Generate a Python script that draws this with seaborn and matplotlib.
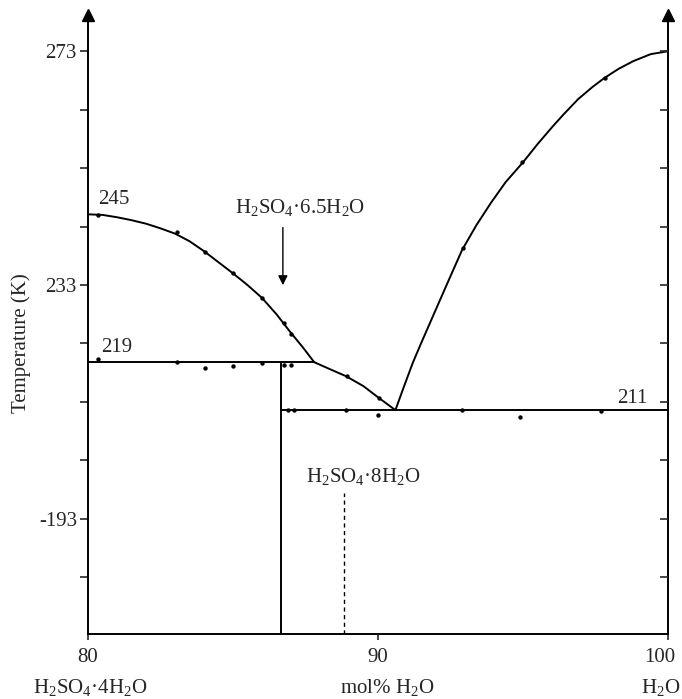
import matplotlib
matplotlib.use("Agg")
import matplotlib.pyplot as plt
import matplotlib.transforms as mtransforms
import seaborn as sns

sns.set_style("white")
plt.rcParams['font.family'] = ['Liberation Serif', 'DejaVu Serif']
plt.rcParams['mathtext.fontset'] = 'custom'
plt.rcParams['mathtext.rm'] = 'Liberation Serif'
plt.rcParams['mathtext.it'] = 'Liberation Serif'

# ---- data ----
# liquidus of H2SO4·4H2O (curve vertices)
liq4_x = [80.0, 80.5, 81.0, 81.5, 82.0, 82.5, 83.0, 83.5, 84.0, 84.5, 85.0,
          85.5, 86.0, 86.5, 87.0, 87.4, 87.8]
liq4_T = [245.1, 245.0, 244.6, 244.1, 243.5, 242.7, 241.8, 240.5, 238.8, 236.9, 235.0,
          233.0, 230.8, 228.0, 224.8, 222.4, 219.8]
# liquidus of H2SO4·6.5H2O
liq65_x = [87.8, 88.3, 88.9, 89.5, 90.0, 90.6]
liq65_T = [219.8, 218.7, 217.4, 215.7, 213.8, 211.6]
# ice liquidus
ice_x = [90.6, 90.9, 91.2, 91.5, 91.8, 92.1, 92.4, 92.9, 93.4, 93.9, 94.4, 95.0,
         95.5, 96.0, 96.4, 96.9, 97.4, 97.8, 98.3, 98.8, 99.4, 100.0]
ice_T = [211.6, 215.7, 219.7, 223.2, 226.6, 230.0, 233.4, 239.0, 243.3, 247.1, 250.6, 254.0,
         257.1, 260.0, 262.2, 264.8, 266.9, 268.4, 270.0, 271.3, 272.5, 273.0]
# peritectic / eutectic horizontals
peri_T = 219.8
peri_x = [80.0, 87.8]
eut_T = 211.6
eut_x = [86.65, 100.0]
# compound composition lines
hyd65_x = 86.65
hyd8_x = 88.83
hyd8_top = 197.4

# measured points
pts_x = [80.35, 83.07, 84.03, 85.0, 86.0, 86.76, 87.0,
         88.93, 90.03,
         92.93, 94.97, 97.83,
         80.35, 83.07, 84.03, 85.0, 86.0, 86.76, 87.0,
         86.9, 87.1, 88.9, 90.0, 92.9, 94.9, 97.7]
pts_T = [245.0, 242.0, 238.6, 235.0, 230.8, 226.5, 224.6,
         217.4, 213.7,
         239.3, 254.0, 268.5,
         220.3, 219.8, 218.8, 219.1, 219.6, 219.4, 219.4,
         211.6, 211.6, 211.6, 210.8, 211.6, 210.4, 211.4]

ytick_vals = [273, 263, 253, 243, 233, 223, 213, 203, 193, 183]
ytick_labels = ['273', '', '', '', '233', '', '', '', '-193', '']
xtick_vals = [80, 90, 100]
xtick_labels = ['80', '90', '100']

YMIN, YMAX = 173.3, 279.2
XMIN, XMAX = 80, 100

fig = plt.figure(figsize=(6.82, 6.99), dpi=100)
ax = fig.add_axes([88/682, 1 - 634/699, (668-88)/682, (634-15)/699])
ax.set_xlim(XMIN, XMAX)
ax.set_ylim(YMIN, YMAX)

lw = 1.4
kw = dict(color='black', lw=lw)
sns.lineplot(x=liq4_x, y=liq4_T, ax=ax, sort=False, **kw)
sns.lineplot(x=liq65_x, y=liq65_T, ax=ax, sort=False, **kw)
sns.lineplot(x=ice_x, y=ice_T, ax=ax, sort=False, **kw)
ax.hlines(peri_T, peri_x[0], peri_x[1], **kw)
ax.hlines(eut_T, eut_x[0], eut_x[1], **kw)
ax.vlines(hyd65_x, YMIN, peri_T, **kw)
ax.vlines(hyd8_x, YMIN, hyd8_top, colors='black', lw=1.0, linestyles=(0, (3, 2.5)))
sns.scatterplot(x=pts_x, y=pts_T, ax=ax, color='black', s=10, edgecolor='black',
                linewidth=0, zorder=5)

# arrow for H2SO4·6.5H2O
ax.annotate('', xy=(86.72, 232.5), xytext=(86.72, 243.3),
            arrowprops=dict(arrowstyle='-|>', color='black', lw=1.0, mutation_scale=14))
fs = 15
ax.text(87.3, 246.2, r'H$_2$SO$_4$·6.5H$_2$O', ha='center', va='center', fontsize=fs)
ax.text(89.5, 200.2, r'H$_2$SO$_4$·8H$_2$O', ha='center', va='center', fontsize=fs)
ax.text(80.35, 247.6, '245', ha='left', va='center', fontsize=fs)
ax.text(80.45, 222.3, '219', ha='left', va='center', fontsize=fs)
ax.text(99.3, 213.6, '211', ha='right', va='center', fontsize=fs)

# spines
ax.spines['top'].set_visible(False)
for s in ['left', 'right', 'bottom']:
    ax.spines[s].set_visible(True)
    ax.spines[s].set_color('black')
    ax.spines[s].set_linewidth(1.4)
# arrowheads on vertical axes
ax.plot([0, 1], [1, 1], transform=ax.transAxes, ls='none', marker='^', ms=8,
        color='black', clip_on=False)

ax.set_yticks(ytick_vals)
ax.set_yticklabels(ytick_labels)
ax.set_xticks(xtick_vals)
ax.set_xticklabels(xtick_labels)
ax.tick_params(axis='y', direction='out', length=6, width=1.2, labelsize=fs, left=True, pad=2)
ax.tick_params(axis='x', direction='out', length=4, width=1.2, labelsize=fs, bottom=True, pad=6)
# keep the "100" label inside the canvas
lab100 = ax.get_xticklabels()[2]
lab100.set_transform(lab100.get_transform() +
                     mtransforms.ScaledTranslation(-8/100, 0, fig.dpi_scale_trans))

# right-side inward ticks
ax2 = ax.twinx()
ax2.set_ylim(YMIN, YMAX)
ax2.set_yticks(ytick_vals)
ax2.set_yticklabels([])
ax2.tick_params(axis='y', direction='in', length=6, width=1.2, right=True)
for s in ax2.spines.values():
    s.set_visible(False)

ax.set_ylabel('Temperature (K)', fontsize=fs, labelpad=0)
ax.yaxis.set_label_coords(-0.098, 0.47)

fig.text(90/682, 1 - 688/699, r'H$_2$SO$_4$·4H$_2$O', ha='center', va='center', fontsize=fs)
fig.text(387/682, 1 - 688/699, r'mol% H$_2$O', ha='center', va='center', fontsize=fs)
fig.text(680/682, 1 - 688/699, r'H$_2$O', ha='right', va='center', fontsize=fs)

fig.savefig('out.png', dpi=100)
